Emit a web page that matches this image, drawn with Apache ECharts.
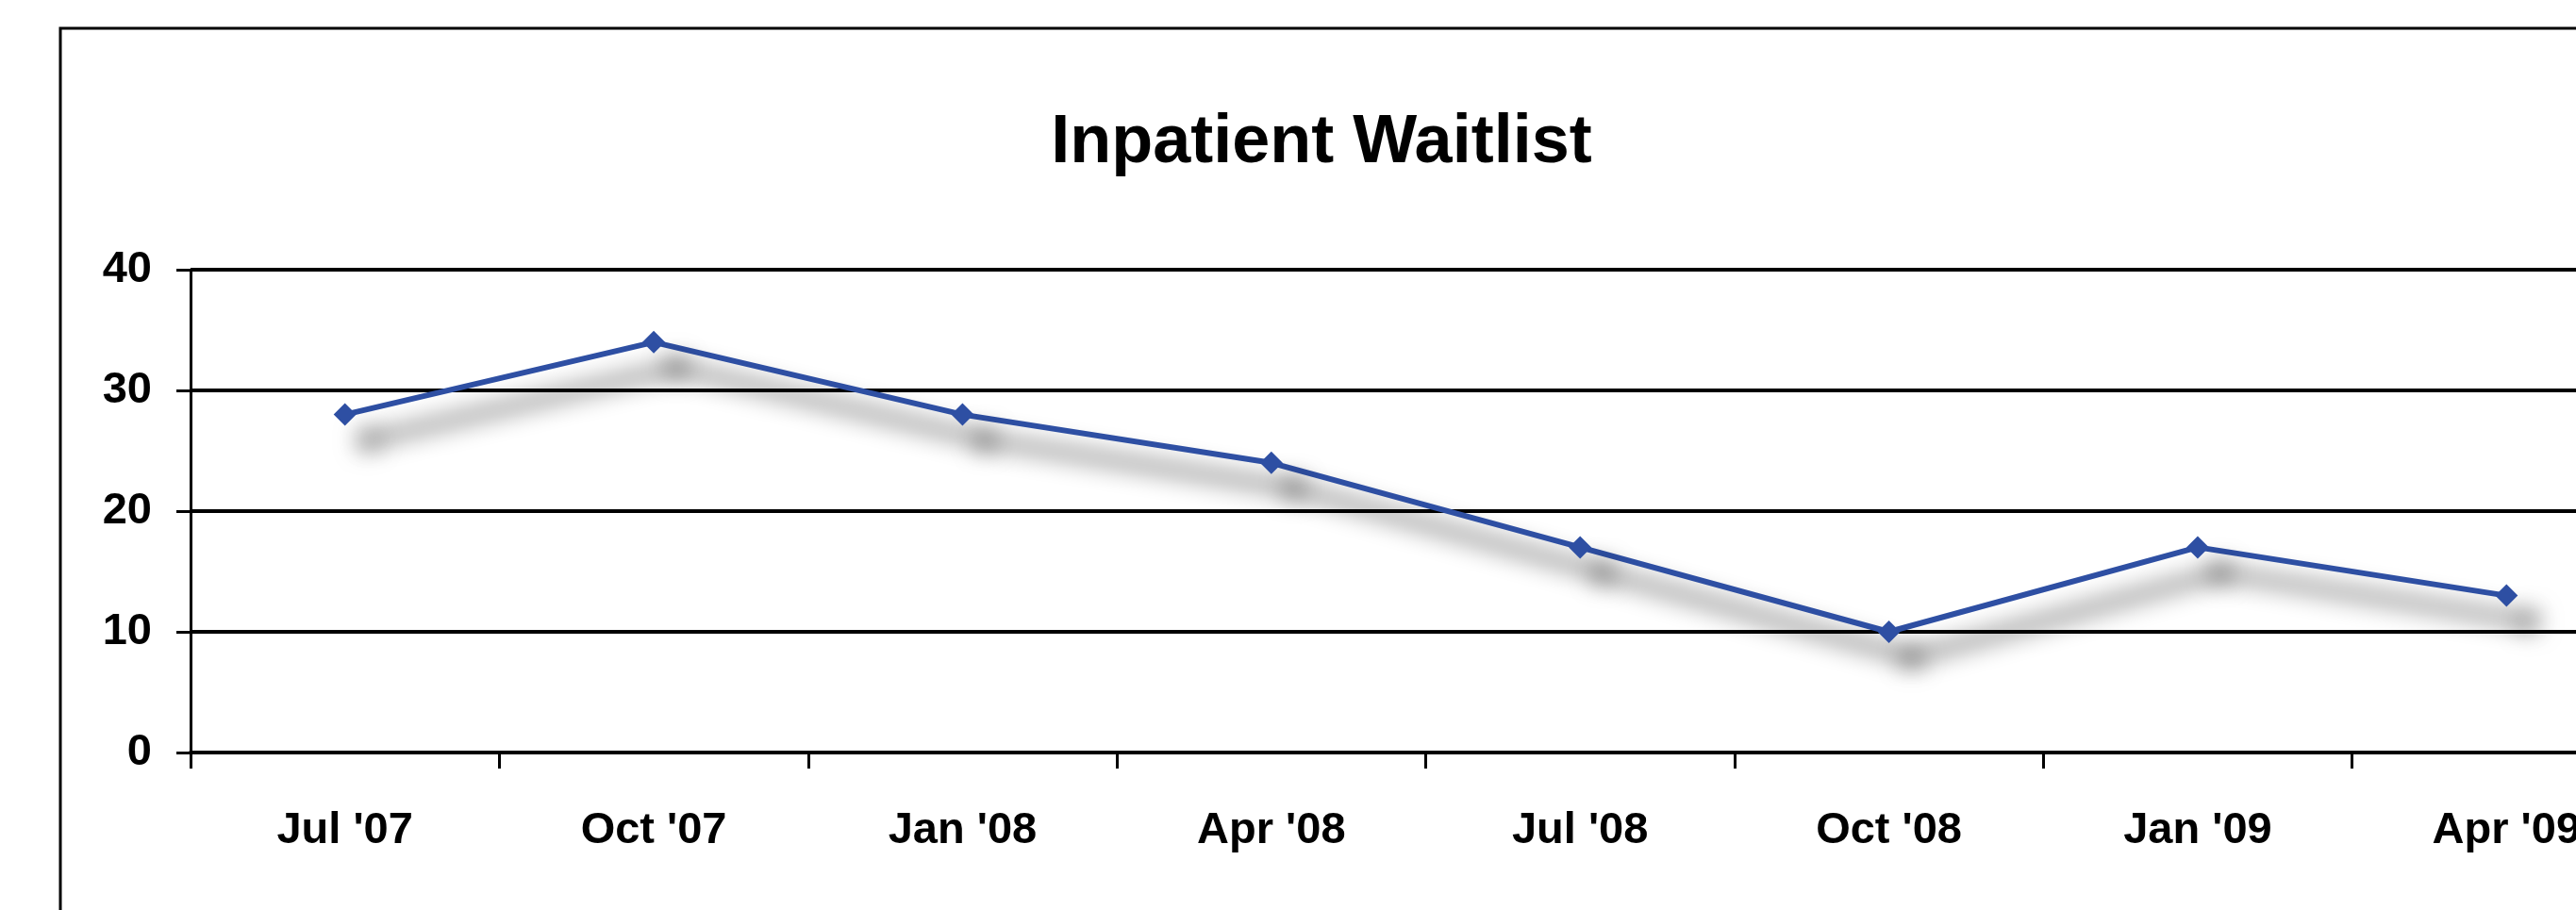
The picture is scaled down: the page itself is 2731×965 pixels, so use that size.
<!DOCTYPE html>
<html>
<head>
<meta charset="utf-8">
<script src="https://cdn.jsdelivr.net/npm/echarts@6/dist/echarts.min.js"></script>
<style>
html,body{margin:0;padding:0;background:#fff;overflow:hidden;width:2731px;height:965px;}
#chart{width:2900px;height:965px;}
</style>
</head>
<body>
<div id="chart"></div>
<script>
const titleText = 'Inpatient Waitlist';
const categories = ["Jul '07", "Oct '07", "Jan '08", "Apr '08", "Jul '08", "Oct '08", "Jan '09", "Apr '09"];
const waitlist = [28, 34, 28, 24, 17, 10, 17, 13];
const yTicks = { min: 0, max: 40, interval: 10 };

const FONT = "'Liberation Sans', Arial, sans-serif";
const chart = echarts.init(document.getElementById('chart'), null, { renderer: 'canvas' });
chart.setOption({
  backgroundColor: '#ffffff',
  animation: false,
  title: {
    text: titleText,
    left: 1401,
    top: 116,
    padding: 0,
    textAlign: 'center',
    textStyle: { fontFamily: FONT, fontSize: 72, fontWeight: 'bold', color: '#000' }
  },
  graphic: [{
    type: 'rect',
    shape: { x: 64, y: 30, width: 3200, height: 1200 },
    style: { fill: 'none', stroke: '#000', lineWidth: 3 },
    silent: true
  }],
  grid: { left: 202, top: 286, width: 2619, height: 512 },
  xAxis: {
    type: 'category',
    data: categories,
    boundaryGap: true,
    axisLine: { show: true, lineStyle: { color: '#000', width: 4 } },
    axisTick: { show: true, length: 17, alignWithLabel: false, lineStyle: { color: '#000', width: 3 } },
    axisLabel: { margin: 60, color: '#000', fontFamily: FONT, fontSize: 47, fontWeight: 'bold', interval: 0 },
    splitLine: { show: false }
  },
  yAxis: {
    type: 'value',
    min: yTicks.min, max: yTicks.max, interval: yTicks.interval,
    axisLine: { show: true, lineStyle: { color: '#000', width: 3 } },
    axisTick: { show: true, length: 15, lineStyle: { color: '#000', width: 3 } },
    axisLabel: { margin: 41, color: '#000', fontFamily: FONT, fontSize: 47, fontWeight: 'bold' },
    splitLine: { show: true, lineStyle: { color: '#000', width: 4 } }
  },
  series: [{
    type: 'line',
    data: waitlist,
    symbol: 'diamond',
    symbolSize: 24,
    lineStyle: { color: '#2E4FA3', width: 6, shadowColor: 'rgba(0,0,0,1)', shadowBlur: 26, shadowOffsetX: 24, shadowOffsetY: 27 },
    itemStyle: { color: '#2E4FA3', borderWidth: 0, shadowColor: 'rgba(0,0,0,0.6)', shadowBlur: 26, shadowOffsetX: 24, shadowOffsetY: 27 },
    clip: false
  }]
});
</script>
</body>
</html>
